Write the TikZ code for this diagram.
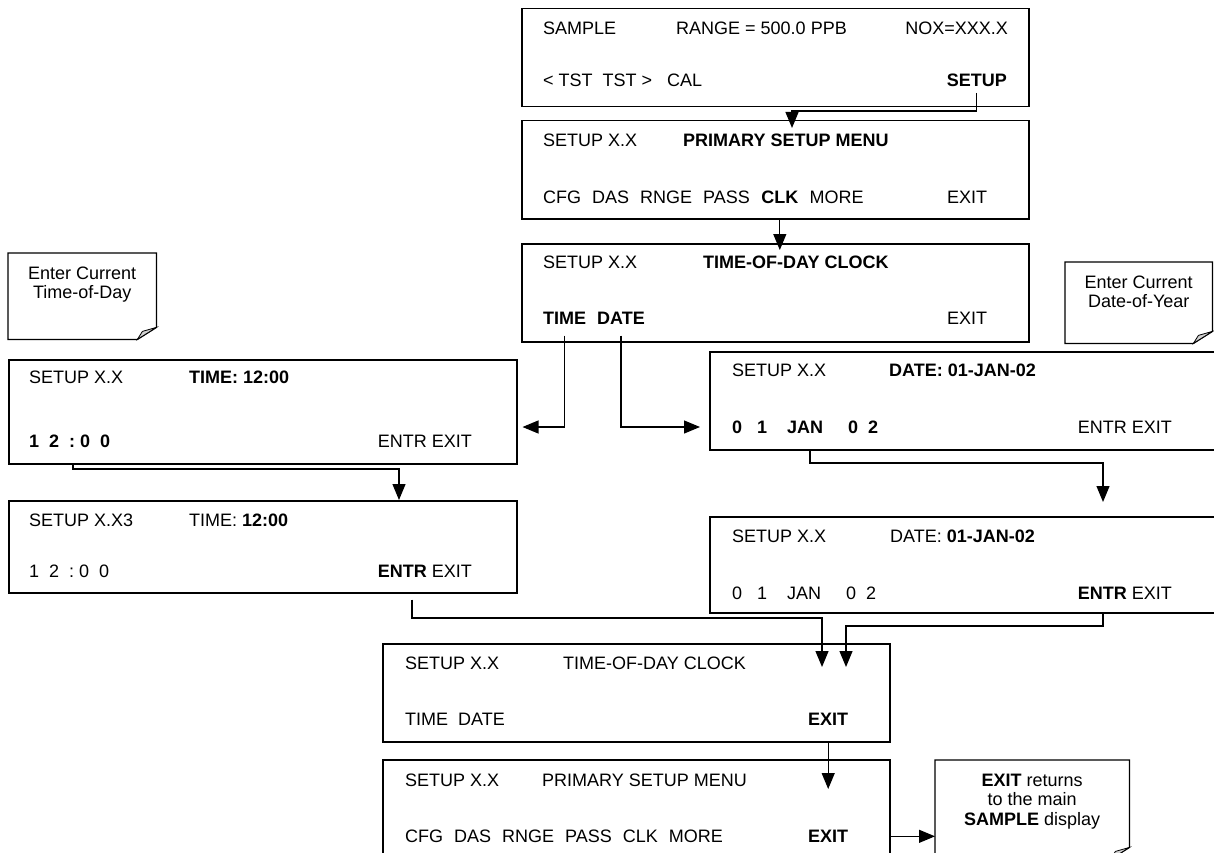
\documentclass[tikz,border=0pt]{standalone}
\usepackage{fontspec}
\setmainfont{Liberation Sans}
\usetikzlibrary{arrows.meta}
\tikzstyle{screen}=[draw,line width=1.5pt,anchor=north west,inner sep=0pt]
\tikzstyle{lcd}=[anchor=base west,inner sep=0pt]
\tikzstyle{lcdr}=[anchor=base east,inner sep=0pt]
\tikzstyle{notebox}=[anchor=north west,inner sep=0pt]
\tikzstyle{notetext}=[anchor=north,inner sep=0pt,align=center]
\tikzstyle{flow}=[line width=1.2pt,>={Triangle[length=16pt,width=13pt]},->]
\newcommand{\kgap}{\hspace{11pt}}
\newcommand{\dogear}[1]{%
	\draw[line width=1.3pt] (#1.north west) -- (#1.north east) -- ([yshift=12pt]#1.south east) -- ([xshift=-19pt]#1.south east) -- (#1.south west) -- cycle;
	\filldraw[line width=0.8pt,fill=gray!35] ([yshift=12pt]#1.south east) -- ([xshift=-19pt]#1.south east) -- ([xshift=-14pt,yshift=8pt]#1.south east) -- cycle;}

\begin{document}
\begin{tikzpicture}[x=1pt,y=-1pt,font=\fontsize{18}{19.5}\selectfont]
		\useasboundingbox (0,0) rectangle (1214,853);
		\clip (0,0) rectangle (1214,853);

		% display frames
		\foreach \nm/\x/\y/\w/\h in {sample/521/8/507/98,primary/521/120/507/98,clock/521/243/507/98,time/8/359/508/104,date/709/351/521/98,timeok/8/500/508/92,dateok/709/516/521/96,clockok/382/643/507/98,primaryok/382/759/507/98}
			{\node[screen,minimum width=\w pt,minimum height=\h pt] (\nm) at (\x,\y) {};}

		\foreach \nm/\x/\y in {bId/543/147,cId/543/268,dId/29/383.5,eId/732/376.5,fId/732/542.5,hId/405/669.5,iId/405/786.5}
			{\node[lcd] (\nm) at (\x,\y) {SETUP X.X};}

		% sample display
		\node[lcd] (aMode) at (543,34.5) {SAMPLE};
		\node[lcd] (aRange) at (676,34.5) {RANGE = 500.0 PPB};
		\node[lcdr] (aConc) at (1008,34.5) {NOX=XXX.X};
		\node[lcd] (aKeys) at (543,86.5) {< TST~~TST >~~~CAL};
		\node[lcdr] (aSetup) at (1007,86.5) {\textbf{SETUP}};

		% primary setup menu
		\node[lcd] (bTitle) at (683,147) {\textbf{PRIMARY SETUP MENU}};
		\node[lcd] (bKeys) at (543,203.5) {CFG\kgap DAS\kgap RNGE\kgap PASS};
		\node[lcd] (bClk) at ([xshift=11pt]bKeys.base east) {\textbf{CLK}};
		\node[lcd] (bMore) at ([xshift=11pt]bClk.base east) {MORE};
		\node[lcd] (bExit) at (947,203.5) {EXIT};

		% clock menu
		\node[lcd] (cTitle) at (703,268) {\textbf{TIME-OF-DAY CLOCK}};
		\node[lcd] (cTime) at (543,324.5) {\textbf{TIME}};
		\node[lcd] (cDate) at (597,324.5) {\textbf{DATE}};
		\node[lcd] (cExit) at (947,324.5) {EXIT};

		% time entry
		\node[lcd] (dTitle) at (189,383.5) {\textbf{TIME: 12:00}};
		\node[lcd] (dDigits) at (29,447.5) {\textbf{1~~2~~:~0~~0}};
		\node[lcdr] (dKeys) at (472,447.5) {ENTR EXIT};

		\node[lcd] (gId) at (29,526.5) {SETUP X.X3};
		\node[lcd] (gTitle) at (189,526.5) {TIME: \textbf{12:00}};
		\node[lcd] (gDigits) at (29,577.5) {1~~2~~:~0~~0};
		\node[lcdr] (gKeys) at (472,577.5) {\textbf{ENTR} EXIT};

		% date entry
		\node[lcd] (eTitle) at (889,376.5) {\textbf{DATE: 01-JAN-02}};
		\node[lcd] (eDigits) at (732,433.5) {\textbf{0~~~1~~~~JAN~~~~~0~~2}};
		\node[lcdr] (eKeys) at (1172,433.5) {ENTR EXIT};

		\node[lcd] (fTitle) at (890,542.5) {DATE: \textbf{01-JAN-02}};
		\node[lcd] (fDigits) at (732,599.5) {0~~~1~~~~JAN~~~~~0~~2};
		\node[lcdr] (fKeys) at (1172,599.5) {\textbf{ENTR} EXIT};

		% back to the menus
		\node[lcd] (hTitle) at (563,669.5) {TIME-OF-DAY CLOCK};
		\node[lcd] (hKeys) at (405,725.5) {TIME~~DATE};
		\node[lcd] (hExit) at (808,725.5) {\textbf{EXIT}};

		\node[lcd] (iTitle) at (542,786.5) {PRIMARY SETUP MENU};
		\node[lcd] (iKeys) at (405,842.5) {CFG\kgap DAS\kgap RNGE\kgap PASS\kgap CLK\kgap MORE};
		\node[lcd] (iExit) at (808,842.5) {\textbf{EXIT}};

		% notes
		\node[notebox,minimum width=148pt,minimum height=86pt] (nTime) at (8,253) {};
		\node[notebox,minimum width=147pt,minimum height=81pt] (nDate) at (1065,262) {};
		\node[notebox,minimum width=194pt,minimum height=99pt] (nExit) at (935,760) {};
		\dogear{nTime}
		\dogear{nDate}
		\dogear{nExit}
		\node[notetext] (nTimeTxt) at ([yshift=-13.5pt]nTime.north) {Enter Current\\Time-of-Day};
		\node[notetext] (nDateTxt) at ([yshift=-13.5pt]nDate.north) {Enter Current\\Date-of-Year};
		\node[notetext] (nExitTxt) at ([yshift=-13.5pt]nExit.north) {\textbf{EXIT} returns\\to the main\\\textbf{SAMPLE} display};

		% connectors
		\coordinate (j1) at (792,111);
		\coordinate (tRow) at (0,427);
		\coordinate (d1) at (73,469);
		\coordinate (d2) at (399,469);
		\coordinate (e1) at (810,463);
		\coordinate (e2) at (1103,463);
		\coordinate (g1) at (412,618);
		\coordinate (g2) at (822,618);
		\coordinate (f1) at (1103,626);
		\coordinate (f2) at (846,626);

		\draw[flow,shorten >=-8pt] ([yshift=-6pt]aSetup.south) |- (j1) -- (j1 |- primary.north);
		\draw[flow,shorten >=-7pt] (bClk |- primary.south) -- (bClk |- clock.north);
		\draw[flow,shorten >=5pt] ([yshift=-11pt]cTime.south) |- (time.east |- tRow);
		\draw[flow,shorten >=9pt] ([yshift=-11pt]cDate.south) |- (date.west |- tRow);
		\draw[flow] (d1 |- time.south) -- (d1) -- (d2) -- (d2 |- timeok.north);
		\draw[flow,shorten >=14pt] (e1 |- date.south) -- (e1) -- (e2) -- (e2 |- dateok.north);
		\draw[flow,shorten >=-24pt] ([yshift=-6pt]g1 |- timeok.south) -- (g1) -- (g2) -- (g2 |- clockok.north);
		\draw[flow,shorten >=-24pt] (f1 |- dateok.south) -- (f1) -- (f2) -- (f2 |- clockok.north);
		\draw[flow,shorten >=-30pt] (hExit |- clockok.south) -- (hExit |- primaryok.north);
		\draw[flow] (primaryok.east |- iExit) -- (nExit.west |- iExit);
	\end{tikzpicture}
\end{document}
